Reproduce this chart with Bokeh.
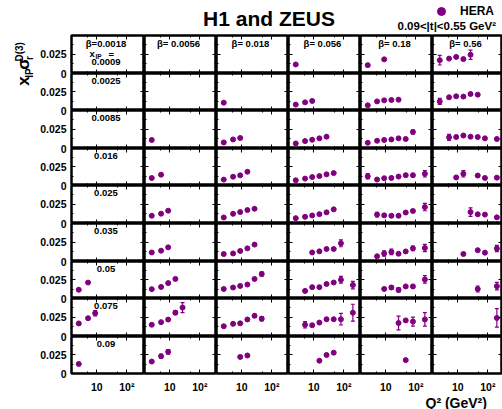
import math
from bokeh.plotting import figure
from bokeh.layouts import gridplot, row, column
from bokeh.models import (Range1d, FixedTicker, LinearAxis, LogAxis, Label,
                          ColumnDataSource, Whisker, TeeHead, Legend, LegendItem)
from bokeh.core.properties import value
from bokeh.embed import file_html
from bokeh.resources import INLINE

# ---------------- texts / categories ----------------
TITLE = "H1 and ZEUS"
LEGEND_LABEL = "HERA"
T_RANGE_TEXT = "0.09<|t|<0.55 GeV²"
X_TITLE = "Q² (GeV²)"

BETA_LABELS = ["0.0018", "0.0056", "0.018", "0.056", "0.18", "0.56"]
XPOM_LABELS = ["0.0009", "0.0025", "0.0085", "0.016", "0.025", "0.035",
               "0.05", "0.075", "0.09"]

X_TICKS = [10, 100]
X_TICK_LABELS = ["10", "10²"]
X_MINOR_TICKS = [5, 50]
Y_TICKS = [0.0, 0.025]
Y_TICK_LABELS = ["0", "0.025"]
Y_MINOR_TICKS = [0.0125, 0.0375]

# ---------------- data: one set of arrays per beta column ----------------
# xpom = row index into XPOM_LABELS, q2 in GeV^2, sig = x_IP*sigma_r^D(3), err = total error
b0018_xpom = [6, 6, 7, 7, 7, 8]
b0018_q2 = [2.5, 5.1, 2.5, 5.1, 8.8, 2.5]
b0018_sig = [0.0117, 0.0213, 0.0170, 0.0238, 0.0304, 0.0128]
b0018_err = [0.0012, 0.0008, 0.0018, 0.0008, 0.0035, 0.0013]

b0056_xpom = [2, 3, 3, 4, 4, 4, 5, 5, 5, 6, 6, 6, 6, 7, 7, 7, 7, 7, 8, 8, 8]
b0056_q2 = [2.5, 2.5, 5.1, 2.5, 5.1, 8.8, 2.5, 5.1, 8.8, 2.5, 5.1, 8.8, 15.3,
            2.5, 5.1, 8.8, 15.3, 26.5, 2.5, 5.1, 8.8]
b0056_sig = [0.0111, 0.0100, 0.0145, 0.0101, 0.0128, 0.0167, 0.0118, 0.0141, 0.0184,
             0.0125, 0.0155, 0.0206, 0.0262, 0.0153, 0.0187, 0.0221, 0.0311, 0.0377,
             0.0160, 0.0232, 0.0290]
b0056_err = [0.0012, 0.0008, 0.0008, 0.0012, 0.0008, 0.0008, 0.0015, 0.0008, 0.0008,
             0.0008, 0.0008, 0.0008, 0.0008, 0.0015, 0.0008, 0.0008, 0.0025, 0.0065,
             0.0015, 0.0025, 0.0030]

b018_xpom = [1, 2, 2, 2, 3, 3, 3, 3, 4, 4, 4, 4, 4, 5, 5, 5, 5, 5,
             6, 6, 6, 6, 6, 6, 7, 7, 7, 7, 7, 7, 8, 8]
b018_q2 = [2.5, 2.5, 5.1, 8.8, 2.5, 5.1, 8.8, 15.3, 2.5, 5.1, 8.8, 15.3, 26.5,
           2.5, 5.1, 8.8, 15.3, 26.5, 2.5, 5.1, 8.8, 15.3, 26.5, 46,
           2.5, 5.1, 8.8, 15.3, 26.5, 46, 8.8, 15.3]
b018_sig = [0.0105, 0.0079, 0.0118, 0.0137, 0.0079, 0.0118, 0.0136, 0.0184,
            0.0079, 0.0126, 0.0149, 0.0175, 0.0192, 0.0097, 0.0105, 0.0137, 0.0171, 0.0220,
            0.0127, 0.0147, 0.0168, 0.0187, 0.0262, 0.0328,
            0.0134, 0.0165, 0.0171, 0.0222, 0.0270, 0.0232, 0.0222, 0.0241]
b018_err = [0.0008, 0.0008, 0.0008, 0.0008, 0.0008, 0.0008, 0.0008, 0.0008,
            0.0008, 0.0008, 0.0008, 0.0008, 0.0008, 0.0015, 0.0008, 0.0008, 0.0008, 0.0008,
            0.0008, 0.0008, 0.0008, 0.0008, 0.0010, 0.0030,
            0.0008, 0.0008, 0.0008, 0.0012, 0.0020, 0.0028, 0.0018, 0.0015]

b056_xpom = [0, 1, 1, 1, 2, 2, 2, 2, 2, 3, 3, 3, 3, 3, 3, 4, 4, 4, 4, 4, 4,
             5, 5, 5, 5, 5, 6, 6, 6, 6, 6, 6, 6, 7, 7, 7, 7, 7, 7, 7, 8, 8, 8]
b056_q2 = [2.5, 2.5, 5.1, 8.8, 2.5, 5.1, 8.8, 15.3, 26.5,
           2.5, 5.1, 8.8, 15.3, 26.5, 46, 2.5, 5.1, 8.8, 15.3, 26.5, 46,
           8.8, 15.3, 26.5, 46, 80, 5.1, 8.8, 15.3, 26.5, 46, 80, 200,
           5.1, 8.8, 15.3, 26.5, 46, 80, 200, 15.3, 26.5, 46]
b056_sig = [0.0118, 0.0079, 0.0109, 0.0128, 0.0066, 0.0097, 0.0114, 0.0132, 0.0154,
            0.0070, 0.0092, 0.0113, 0.0126, 0.0149, 0.0166,
            0.0070, 0.0087, 0.0105, 0.0122, 0.0145, 0.0184,
            0.0118, 0.0132, 0.0163, 0.0163, 0.0237,
            0.0102, 0.0152, 0.0152, 0.0194, 0.0214, 0.0250, 0.0180,
            0.0153, 0.0147, 0.0181, 0.0225, 0.0225, 0.0225, 0.0310,
            0.0171, 0.0248, 0.0279]
b056_err = [0.0008, 0.0008, 0.0008, 0.0008, 0.0008, 0.0008, 0.0008, 0.0008, 0.0008,
            0.0008, 0.0008, 0.0008, 0.0008, 0.0008, 0.0008,
            0.0008, 0.0008, 0.0008, 0.0008, 0.0008, 0.0008,
            0.0008, 0.0008, 0.0008, 0.0008, 0.0045,
            0.0008, 0.0008, 0.0008, 0.0008, 0.0010, 0.0045, 0.0050,
            0.0042, 0.0008, 0.0008, 0.0008, 0.0008, 0.0075, 0.0110,
            0.0010, 0.0015, 0.0015]

b18_xpom = [0, 0, 1, 1, 1, 1, 1, 2, 2, 2, 2, 2, 2, 2, 3, 3, 3, 3, 3, 3, 3, 3,
            4, 4, 4, 4, 4, 4, 4, 5, 5, 5, 5, 5, 5, 5, 6, 6, 6, 6, 6, 6, 7, 7, 7, 7, 8]
b18_q2 = [2.5, 8.8, 2.5, 5.1, 8.8, 15.3, 26.5, 2.5, 5.1, 8.8, 15.3, 26.5, 46, 80,
          2.5, 5.1, 8.8, 15.3, 26.5, 46, 80, 200, 5.1, 8.8, 15.3, 26.5, 46, 80, 200,
          5.1, 8.8, 15.3, 26.5, 46, 80, 200, 8.8, 15.3, 26.5, 46, 80, 200,
          26.5, 46, 80, 200, 46]
b18_sig = [0.0109, 0.0184, 0.0070, 0.0122, 0.0136, 0.0141, 0.0145,
           0.0075, 0.0101, 0.0111, 0.0118, 0.0132, 0.0124, 0.0216,
           0.0123, 0.0080, 0.0097, 0.0101, 0.0119, 0.0138, 0.0138, 0.0156,
           0.0116, 0.0106, 0.0101, 0.0101, 0.0143, 0.0163, 0.0214,
           0.0068, 0.0105, 0.0125, 0.0101, 0.0131, 0.0171, 0.0176,
           0.0128, 0.0147, 0.0116, 0.0162, 0.0162, 0.0255,
           0.0176, 0.0210, 0.0194, 0.0222, 0.0179]
b18_err = [0.0008, 0.0008, 0.0008, 0.0008, 0.0008, 0.0008, 0.0008,
           0.0008, 0.0008, 0.0008, 0.0008, 0.0008, 0.0008, 0.0025,
           0.0035, 0.0008, 0.0008, 0.0008, 0.0008, 0.0008, 0.0008, 0.0042,
           0.0030, 0.0008, 0.0008, 0.0008, 0.0008, 0.0008, 0.0048,
           0.0008, 0.0035, 0.0035, 0.0008, 0.0008, 0.0030, 0.0048,
           0.0008, 0.0026, 0.0030, 0.0008, 0.0020, 0.0050,
           0.0090, 0.0010, 0.0058, 0.0088, 0.0010]

b56_xpom = [0, 0, 0, 0, 0, 1, 1, 1, 1, 1, 1, 2, 2, 2, 2, 2, 2, 2,
            3, 3, 3, 3, 3, 4, 4, 4, 4, 5, 5, 5, 5, 6, 6, 7]
b56_q2 = [2.5, 5.1, 8.8, 15.3, 26.5, 2.5, 5.1, 8.8, 15.3, 26.5, 46,
          5.1, 8.8, 15.3, 26.5, 46, 80, 200, 8.8, 15.3, 46, 80, 200,
          26.5, 46, 80, 200, 15.3, 46, 80, 200, 46, 200, 200]
b56_sig = [0.0173, 0.0194, 0.0216, 0.0188, 0.0245,
           0.0122, 0.0177, 0.0190, 0.0186, 0.0221, 0.0212,
           0.0145, 0.0150, 0.0169, 0.0154, 0.0150, 0.0132, 0.0124,
           0.0108, 0.0156, 0.0133, 0.0101, 0.0105,
           0.0149, 0.0120, 0.0116, 0.0080,
           0.0098, 0.0147, 0.0115, 0.0169,
           0.0127, 0.0165, 0.0242]
b56_err = [0.0062, 0.0008, 0.0008, 0.0008, 0.0060,
           0.0040, 0.0008, 0.0008, 0.0008, 0.0008, 0.0008,
           0.0040, 0.0008, 0.0008, 0.0008, 0.0008, 0.0008, 0.0012,
           0.0015, 0.0042, 0.0008, 0.0008, 0.0010,
           0.0055, 0.0008, 0.0008, 0.0008,
           0.0018, 0.0010, 0.0018, 0.0040,
           0.0040, 0.0050, 0.0120]

COLUMNS = [
    (b0018_xpom, b0018_q2, b0018_sig, b0018_err),
    (b0056_xpom, b0056_q2, b0056_sig, b0056_err),
    (b018_xpom, b018_q2, b018_sig, b018_err),
    (b056_xpom, b056_q2, b056_sig, b056_err),
    (b18_xpom, b18_q2, b18_sig, b18_err),
    (b56_xpom, b56_q2, b56_sig, b56_err),
]

# ---------------- layout / style ----------------
FONT = "Liberation Sans"
PURPLE = "#800080"
PAGE_W, PAGE_H = 502, 409
COL_W = [73, 72, 72, 72, 72, 70]
ROW_H = [38, 37, 38, 37, 38, 38, 37, 38, 37]
Y_MAX = 0.0495
X_MIN = 1.43
PX_PER_DECADE = 30.0
HEADER_H = 34
TICKLABEL_STRIP = 20
TITLE_STRIP_W = 36
YFIG_W = 34
LEFT_W = TITLE_STRIP_W + YFIG_W
GRID_TOP = HEADER_H + 1
GRID_BOTTOM = GRID_TOP + sum(ROW_H)
FOOTER_TOP = GRID_BOTTOM + TICKLABEL_STRIP
FOOTER_H = PAGE_H - FOOTER_TOP
ROT_SHIFT = 22  # vertical correction for the rotated title pieces


def style_axis(ax, ticks, minor, fixed=None, labels=False):
    ax.ticker = FixedTicker(ticks=ticks, minor_ticks=minor)
    ax.major_tick_in = 4
    ax.major_tick_out = 0
    ax.minor_tick_in = 2
    ax.minor_tick_out = 0
    ax.axis_line_color = None
    ax.major_tick_line_color = "black"
    ax.minor_tick_line_color = "black"
    if fixed is not None:
        ax.fixed_location = fixed
    if not labels:
        ax.major_label_text_color = None


def add_text(p, text, x, y, size, align="center", units="screen", angle=0):
    # (x, y) is the vertical middle of the text line
    p.add_layout(Label(x=x, y=y, x_units=units, y_units=units, text=text,
                       text_font=FONT, text_font_style="bold",
                       text_font_size=size, text_align=align,
                       text_baseline="middle", text_color="black",
                       angle=angle, angle_units="deg"))


def make_panel(c, r):
    w, h = COL_W[c], ROW_H[r]
    x_end = X_MIN * 10 ** (w / PX_PER_DECADE)
    last_row = r == len(ROW_H) - 1
    p = figure(frame_width=w, frame_height=h, x_axis_type="log",
               x_range=Range1d(X_MIN, x_end),
               y_range=Range1d(0, Y_MAX), title=None,
               min_border_left=1 if c == 0 else 0, min_border_right=0,
               min_border_top=1 if r == 0 else 0,
               min_border_bottom=TICKLABEL_STRIP if last_row else 0,
               toolbar_location=None, output_backend="svg")
    p.grid.visible = False
    p.outline_line_color = "black"
    p.outline_line_width = 2.5
    p.background_fill_color = "white"
    p.border_fill_color = "white"
    top_ax = LogAxis()
    right_ax = LinearAxis()
    p.add_layout(top_ax, "above")
    p.add_layout(right_ax, "right")
    style_axis(top_ax, X_TICKS, X_MINOR_TICKS, fixed=Y_MAX)
    style_axis(right_ax, Y_TICKS, Y_MINOR_TICKS, fixed=x_end)
    style_axis(p.left[0], Y_TICKS, Y_MINOR_TICKS, fixed=X_MIN)
    bottom_ax = p.below[0]
    if last_row:
        style_axis(bottom_ax, X_TICKS, X_MINOR_TICKS, labels=True)
        bottom_ax.major_label_overrides = dict(zip(X_TICKS, X_TICK_LABELS))
        bottom_ax.major_label_text_font_size = "10.5px"
        bottom_ax.major_label_text_font = FONT
        bottom_ax.major_label_text_font_style = "bold"
        bottom_ax.major_label_text_color = "black"
        bottom_ax.major_label_standoff = 7
    else:
        style_axis(bottom_ax, X_TICKS, X_MINOR_TICKS, fixed=0.0)

    xp, q2, sig, err = COLUMNS[c]
    idx = [i for i, k in enumerate(xp) if k == r]
    if idx:
        src = ColumnDataSource(dict(
            q2=[q2[i] for i in idx], sig=[sig[i] for i in idx],
            lo=[sig[i] - err[i] for i in idx], hi=[sig[i] + err[i] for i in idx]))
        p.add_layout(Whisker(source=src, base="q2", lower="lo", upper="hi",
                             line_color=PURPLE, line_width=1.2,
                             upper_head=TeeHead(size=4, line_color=PURPLE, line_width=1.2),
                             lower_head=TeeHead(size=4, line_color=PURPLE, line_width=1.2)))
        p.scatter("q2", "sig", source=src, size=5, fill_color=PURPLE,
                  line_color=PURPLE)

    # panel annotations (y = middle of the text, measured from the frame bottom)
    if r == 0:
        btxt = ("β=" if c == 0 else "β= ") + BETA_LABELS[c]
        add_text(p, btxt, w / 2 - 2, h - 8, "9.5px")
    if c == 0:
        if r == 0:
            add_text(p, "x", 18, h - 18, "9.5px", align="left")
            add_text(p, "IP", 24, h - 20.5, "6.5px", align="left")
            add_text(p, "=", 37, h - 18.5, "9.5px", align="left")
            add_text(p, XPOM_LABELS[0], 34.5, h - 26.5, "9.5px")
        else:
            add_text(p, XPOM_LABELS[r], 34.5, h - 7.7, "9.5px")
    return p


grid_rows = [[make_panel(c, r) for c in range(len(COL_W))] for r in range(len(ROW_H))]
grid = gridplot(grid_rows, toolbar_location=None)
GRID_W = sum(COL_W) + 1


def strip_figure(w, h, x0):
    # a plain canvas whose data units are page pixels (x to the right, y upward from its bottom)
    f = figure(width=w, height=h, title=None,
               x_range=Range1d(x0, x0 + w), y_range=Range1d(0, h),
               min_border=0, toolbar_location=None, output_backend="svg",
               x_axis_location=None, y_axis_location=None)
    f.outline_line_color = None
    f.grid.visible = False
    return f


# ---- left strip 1: y-axis title (pieces centred on their anchors) ----
tfig = strip_figure(TITLE_STRIP_W, PAGE_H, 0)


def ty(page_y):
    return PAGE_H - (page_y - ROT_SHIFT)


add_text(tfig, "x", 23, ty(77), "17px", units="data", angle=90)
add_text(tfig, "IP", 28.5, ty(67.5), "10px", units="data", angle=90)
add_text(tfig, "σ", 23, ty(56.5), "17px", units="data", angle=90)
add_text(tfig, "r", 28.5, ty(49.3), "10px", units="data", angle=90)
add_text(tfig, "D(3)", 19, ty(41.8), "10px", units="data", angle=90)

# ---- left strip 2: y tick labels of the stacked panels ----
yfig = figure(frame_width=2, frame_height=sum(ROW_H), title=None,
              x_range=Range1d(0, 1), y_range=Range1d(0, sum(ROW_H)),
              min_border_left=YFIG_W - 2, min_border_right=0,
              min_border_top=GRID_TOP, min_border_bottom=PAGE_H - GRID_BOTTOM,
              toolbar_location=None, output_backend="svg", x_axis_location=None)
yfig.outline_line_color = None
yfig.grid.visible = False
ytick_pos, ytick_over = [], {}
for r, h in enumerate(ROW_H):
    base = float(sum(ROW_H[r + 1:]))
    for t, lab in zip(Y_TICKS, Y_TICK_LABELS):
        pos = base + t / Y_MAX * h
        ytick_pos.append(pos)
        ytick_over[pos] = lab
yax = yfig.yaxis[0]
yax.ticker = FixedTicker(ticks=ytick_pos)
yax.major_label_overrides = ytick_over
yax.major_tick_in = 0
yax.major_tick_out = 0
yax.minor_tick_in = 0
yax.minor_tick_out = 0
yax.axis_line_color = None
yax.major_label_standoff = 2
yax.major_label_text_font = FONT
yax.major_label_text_font_style = "bold"
yax.major_label_text_font_size = "10.5px"
yax.major_label_text_color = "black"

# ---- header: title and legend ----
header = strip_figure(GRID_W, HEADER_H, LEFT_W)


def hy(page_y):
    return HEADER_H - page_y


add_text(header, TITLE, 268.5, hy(17.5), "21px", units="data")
add_text(header, T_RANGE_TEXT, 397, hy(25), "11.5px", align="left", units="data")
leg_r = header.scatter(x=[float("nan")], y=[float("nan")], size=8,
                       fill_color=PURPLE, line_color=PURPLE)
legend = Legend(items=[LegendItem(label=value(LEGEND_LABEL), renderers=[leg_r])],
                location=(361, 13), padding=0, margin=0, spacing=0,
                glyph_width=20, glyph_height=20, label_height=20, label_standoff=9,
                label_text_font=FONT, label_text_font_style="bold",
                label_text_font_size="12px", label_text_color="black",
                border_line_color=None, background_fill_alpha=0)
header.add_layout(legend)

# ---- footer: x-axis title ----
footer = strip_figure(GRID_W, FOOTER_H, LEFT_W)
add_text(footer, X_TITLE, 425, PAGE_H - 400.5, "14px", align="left", units="data")

p = row(tfig, yfig, column(header, grid, footer))
open("out.html", "w").write(file_html(p, INLINE))
